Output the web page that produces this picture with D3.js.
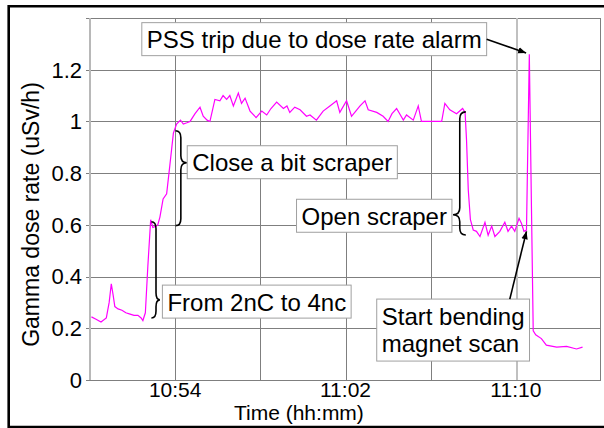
<!DOCTYPE html>
<html>
<head>
    <meta charset="UTF-8">
    <title>Gamma dose rate</title>
    <style>
        body { margin: 0; background: #fff; }
        svg { display: block; font-family: "Liberation Sans", Arial, sans-serif; }
        .grid line { stroke: #7f7f7f; stroke-width: 1px; shape-rendering: crispEdges; }
        .tick-label { font-size: 22px; fill: #000; }
        .axis-title { font-size: 21px; fill: #000; }
        .note rect { fill: #fff; stroke: #a0a0a0; stroke-width: 1px; }
        .note text { font-size: 24px; fill: #000; }
        .brace { fill: none; stroke: #000; stroke-width: 1.6px; }
        .arrow { stroke: #000; stroke-width: 1.6px; }
        .line { fill: none; stroke: #ff00ff; stroke-width: 1.2px; }
    </style>
</head>
<body>
<script src="https://cdn.jsdelivr.net/npm/d3@7"></script>
<script>
    // data
    var times = ["10:50:04","10:50:17","10:50:31","10:50:46","10:50:54","10:51:00","10:51:05","10:51:10",
        "10:51:19","10:51:30","10:51:41","10:51:53","10:52:04","10:52:15","10:52:24","10:52:29","10:52:36",
        "10:52:43","10:52:51","10:52:57","10:53:06","10:53:11","10:53:17","10:53:26","10:53:36","10:53:45",
        "10:53:55","10:54:04","10:54:15","10:54:23","10:54:33","10:54:42","10:54:56","10:55:10","10:55:19",
        "10:55:30","10:55:38","10:55:52","10:56:06","10:56:15","10:56:25","10:56:34","10:56:44","10:56:58",
        "10:57:07","10:57:17","10:57:31","10:57:48","10:58:04","10:58:18","10:58:30","10:58:46","10:59:05",
        "10:59:15","10:59:23","10:59:37","10:59:52","11:00:10","11:00:20","11:00:38","11:00:57","11:01:16",
        "11:01:35","11:01:44","11:02:03","11:02:17","11:02:29","11:02:41","11:02:55","11:03:04","11:03:28",
        "11:03:46","11:04:00","11:04:11","11:04:24","11:04:43","11:04:52","11:05:11","11:05:25","11:05:34",
        "11:05:58","11:06:17","11:06:31","11:06:40","11:06:54","11:07:13","11:07:30","11:07:37","11:07:41",
        "11:07:46","11:07:52","11:08:00","11:08:09","11:08:19","11:08:33","11:08:42","11:08:52","11:09:01",
        "11:09:15","11:09:29","11:09:38","11:09:48","11:09:57","11:10:09","11:10:16","11:10:23","11:10:30",
        "11:10:38","11:10:44","11:10:49","11:10:56","11:11:12","11:11:26","11:11:55","11:12:23","11:12:51",
        "11:13:08"];
    var doseRate = [0.244,0.235,0.224,0.24,0.30,0.372,0.33,0.284,
        0.275,0.27,0.26,0.255,0.25,0.25,0.24,0.23,0.26,
        0.44,0.62,0.59,0.595,0.60,0.63,0.70,0.72,0.83,
        0.955,0.99,1.005,0.99,0.995,1.0,1.03,1.055,1.02,
        1.005,1.0,1.085,1.08,1.10,1.085,1.10,1.06,1.11,
        1.07,1.09,1.04,1.015,1.04,1.025,1.05,1.075,1.05,
        1.06,1.035,1.055,1.045,1.02,1.025,1.005,1.04,1.06,
        1.08,1.035,1.08,1.02,1.04,1.06,1.08,1.045,1.035,
        1.02,1.0,1.03,1.05,1.005,1.025,1.005,1.06,1.0,
        1.0,1.0,1.0,1.07,1.045,1.03,1.05,1.035,0.93,
        0.735,0.62,0.58,0.575,0.555,0.61,0.56,0.595,0.555,
        0.575,0.61,0.575,0.595,0.575,0.625,0.605,0.575,0.58,
        1.26,0.67,0.19,0.175,0.16,0.135,0.127,0.13,0.12,
        0.127];

    var timeDomain = ["10:50:00", "11:14:00"];
    var gridTimes = ["10:54:00","10:58:00","11:02:00","11:06:00","11:10:00"];
    var xTickLabels = ["10:54","11:02","11:10"];
    var yTicks = [0, 0.2, 0.4, 0.6, 0.8, 1, 1.2];
    var yMax = 1.4;

    // annotation texts and anchors in chart units
    var noteTexts = [["PSS trip due to dose rate alarm"], ["Close a bit scraper"], ["From 2nC to 4nc"],
        ["Open scraper"], ["Start bending", "magnet scan"]];
    var noteAnchors = [["10:52:26", 1.382], ["10:54:34", 0.906], ["10:53:24", 0.367],
        ["10:59:42", 0.699], ["11:03:28", 0.313]];
    // braces: end, spine, tip times; top, tip, bottom values
    var braces = [
        ["10:52:53", "10:53:06", "10:53:17", 0.612, 0.31, 0.24],
        ["10:54:01", "10:54:16", "10:54:33", 0.964, 0.84, 0.597],
        ["11:07:39", "11:07:22", "11:07:03", 1.037, 0.639, 0.561]
    ];

    var W = 604, H = 428;
    var margin = {top: 18, right: 3, bottom: 48, left: 90};
    var width = W - margin.left - margin.right,
        height = H - margin.top - margin.bottom;

    var parseTime = d3.timeParse("%H:%M:%S");

    var data = times.map(function(t, i) { return {date: parseTime(t), value: doseRate[i]}; });

    var x = d3.scaleTime().domain(timeDomain.map(parseTime)).range([0, width]);
    var y = d3.scaleLinear().domain([0, yMax]).range([height, 0]);

    var svg = d3.select("body").append("svg")
        .attr("width", W)
        .attr("height", H);

    svg.append("defs").append("marker")
        .attr("id", "head")
        .attr("viewBox", "0 0 10 10")
        .attr("refX", 10).attr("refY", 5)
        .attr("markerWidth", 5).attr("markerHeight", 5)
        .attr("markerUnits", "strokeWidth")
        .attr("orient", "auto")
        .append("path").attr("d", "M0,1 L10,5 L0,9 z").attr("fill", "#000");

    // outer frame
    svg.append("path")
        .attr("d", "M" + (W + 5) + ",6.3 H8.7 V427 H" + (W + 5))
        .attr("fill", "none").attr("stroke", "#000").attr("stroke-width", 2.6);

    var g = svg.append("g").attr("transform", `translate(${margin.left},${margin.top})`);

    // grid
    var grid = g.append("g").attr("class", "grid");
    grid.selectAll(".hy").data(yTicks.concat([yMax])).enter().append("line")
        .attr("x1", -4).attr("x2", width)
        .attr("y1", (d) => Math.round(y(d)) + 0.5).attr("y2", (d) => Math.round(y(d)) + 0.5);
    grid.selectAll(".vx").data(gridTimes).enter().append("line")
        .attr("x1", (d) => Math.round(x(parseTime(d))) + 0.5)
        .attr("x2", (d) => Math.round(x(parseTime(d))) + 0.5)
        .attr("y1", 0).attr("y2", height)
        .style("stroke", (d) => d === "11:10:00" ? "#c0c0c0" : null)
        .style("stroke-width", (d) => d === "11:10:00" ? "2px" : null);
    grid.append("line").attr("x1", width - 0.5).attr("x2", width - 0.5).attr("y1", 0).attr("y2", height);
    grid.append("line").attr("x1", 0).attr("x2", 0).attr("y1", 0).attr("y2", height)
        .style("stroke", "#b8b8b8").style("stroke-width", "2px");

    // tick labels
    g.selectAll(".ylab").data(yTicks).enter().append("text")
        .attr("class", "tick-label")
        .attr("x", -8).attr("y", (d) => y(d)).attr("dy", "0.36em")
        .attr("text-anchor", "end")
        .text((d) => d3.format("~g")(d));
    g.selectAll(".xlab").data(xTickLabels).enter().append("text")
        .attr("class", "tick-label")
        .style("font-size", "21px")
        .attr("x", (d) => x(parseTime(d + ":00"))).attr("y", height + 17)
        .attr("text-anchor", "middle")
        .text((d) => d);

    svg.append("text").attr("class", "axis-title")
        .attr("x", margin.left + x(parseTime("11:00:00")) - 4).attr("y", 420)
        .attr("text-anchor", "middle")
        .text("Time (hh:mm)");
    svg.append("text").attr("class", "axis-title")
        .attr("transform", "translate(39," + (margin.top + y(0.64)) + ") rotate(-90)")
        .attr("text-anchor", "middle")
        .style("font-size", "23px")
        .text("Gamma dose rate (uSv/h)");

    // dose rate line
    var line = d3.line()
        .x((d) => x(d.date))
        .y((d) => y(d.value));
    g.append("path").datum(data).attr("class", "line").attr("d", line);

    // braces
    g.selectAll(".brace").data(braces).enter().append("path")
        .attr("class", "brace")
        .attr("d", function(b) {
            var xe = x(parseTime(b[0])), xv = x(parseTime(b[1])), xt = x(parseTime(b[2]));
            var yt = y(b[3]), yp = y(b[4]), yb = y(b[5]), r = 7;
            return "M" + xe + "," + yt + " Q" + xv + "," + yt + " " + xv + "," + (yt + r) +
                " L" + xv + "," + (yp - r) + " Q" + xv + "," + yp + " " + xt + "," + yp +
                " Q" + xv + "," + yp + " " + xv + "," + (yp + r) +
                " L" + xv + "," + (yb - r) + " Q" + xv + "," + yb + " " + xe + "," + yb;
        });

    // note boxes
    var boxes = [];
    noteTexts.forEach(function(lines, i) {
        var bx = x(parseTime(noteAnchors[i][0])), by = y(noteAnchors[i][1]);
        var note = g.append("g").attr("class", "note");
        var rect = note.append("rect");
        var wMax = 0;
        lines.forEach(function(s, j) {
            var t = note.append("text").attr("x", bx + 5).attr("y", by + 25.5 + j * 27).text(s);
            wMax = Math.max(wMax, t.node().getComputedTextLength());
        });
        var bw = wMax + 10, bh = lines.length === 1 ? 33 : 62;
        rect.attr("x", bx).attr("y", by).attr("width", bw).attr("height", bh);
        boxes.push({x: bx, y: by, w: bw, h: bh});
    });

    // arrows
    var pssBox = boxes[0], scanBox = boxes[4];
    g.append("line").attr("class", "arrow")
        .attr("x1", pssBox.x + pssBox.w).attr("y1", pssBox.y + pssBox.h / 2)
        .attr("x2", x(parseTime("11:10:29"))).attr("y2", y(1.265))
        .attr("marker-end", "url(#head)");
    g.append("line").attr("class", "arrow")
        .attr("x1", x(parseTime("11:09:43"))).attr("y1", scanBox.y)
        .attr("x2", x(parseTime("11:10:30"))).attr("y2", y(0.575))
        .attr("marker-end", "url(#head)");
</script>
</body>
</html>
